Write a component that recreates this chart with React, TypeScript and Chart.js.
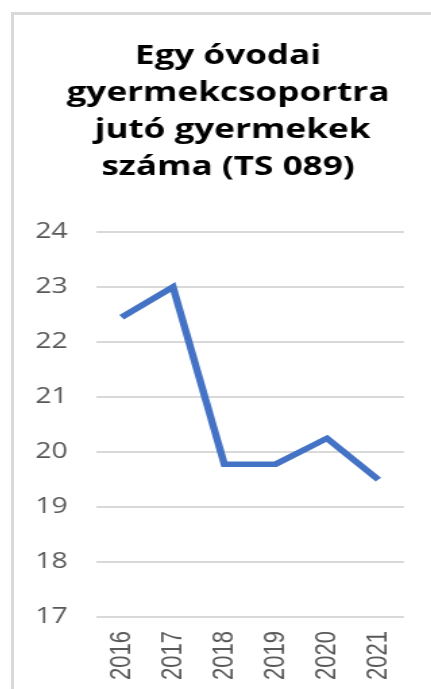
import React, { useEffect, useRef } from "react";
import { Chart, registerables } from "chart.js";

Chart.register(...registerables);

const titleLines = ["Egy óvodai", "gyermekcsoportra", " jutó gyermekek", "száma (TS 089)"];
const years = ["2016", "2017", "2018", "2019", "2020", "2021"];
const values = [22.45, 23.0, 19.78, 19.78, 20.25, 19.5];
const yMin = 17;
const yMax = 24;

const STRETCH = 1.35;
const CW = 317;
const CH = 693;

export default function App() {
  const ref = useRef<HTMLCanvasElement | null>(null);
  useEffect(() => {
    const canvas = ref.current;
    if (!canvas) return;
    const chart = new Chart(canvas, {
      type: "line",
      data: {
        labels: years,
        datasets: [
          {
            data: values,
            borderColor: "#4472C4",
            backgroundColor: "#4472C4",
            borderWidth: 5.5,
            pointRadius: 0,
            tension: 0,
            borderJoinStyle: "miter",
            yAxisID: "y",
          },
        ],
      },
      options: {
        animation: false,
        responsive: false,
        devicePixelRatio: 1,
        layout: { padding: { left: 10, right: 10, top: 0, bottom: 14 } },
        plugins: {
          legend: { display: false },
          tooltip: { enabled: false },
          title: {
            display: true,
            text: titleLines,
            color: "#000000",
            font: { family: "Open Sans", size: 26, weight: "bold", lineHeight: "37px" },
            padding: { top: 23, bottom: 46 },
          },
        },
        scales: {
          x: {
            offset: true,
            grid: { display: false, drawTicks: false },
            border: { display: false },
            ticks: {
              autoSkip: false,
              minRotation: 90,
              maxRotation: 90,
              padding: 14,
              color: "#595959",
              font: { family: "Liberation Sans", size: 22 },
            },
          },
          y: {
            min: yMin,
            max: yMax,
            afterFit: (scale: any) => {
              scale.width = 50.7;
            },
            grid: { color: "#d9d9d9", lineWidth: 2, drawTicks: false },
            border: { display: false },
            ticks: {
              stepSize: 1,
              padding: 21,
              color: "#595959",
              font: { family: "Open Sans", size: 21 },
            },
          },
          yRightSpace: {
            type: "linear",
            position: "right",
            display: true,
            afterFit: (scale: any) => {
              scale.width = 18.1;
            },
            grid: { display: false, drawTicks: false },
            border: { display: false },
            ticks: { display: false },
          },
        },
      },
    });
    return () => chart.destroy();
  }, []);

  return (
    <div style={{ position: "fixed", left: 0, top: 0, width: 431, height: 689, overflow: "hidden", background: "#fff" }}>
      <div
        style={{
          position: "absolute",
          left: 11,
          top: 12,
          width: 440,
          height: 700,
          borderLeft: "3px solid #d9d9d9",
          borderTop: "3px solid #d9d9d9",
        }}
      />
      <canvas
        ref={ref}
        width={CW}
        height={CH}
        style={{
          position: "absolute",
          left: 14,
          top: 15,
          width: CW,
          height: CH,
          transform: `scaleX(${STRETCH})`,
          transformOrigin: "0 0",
        }}
      />
    </div>
  );
}
